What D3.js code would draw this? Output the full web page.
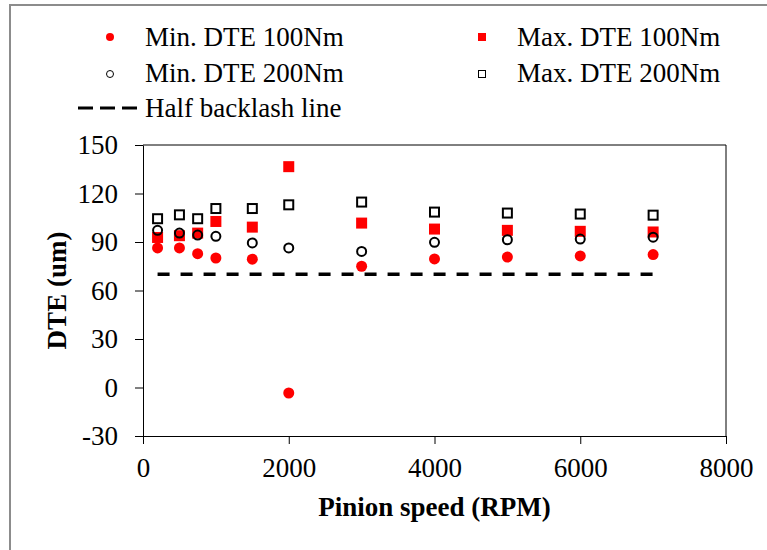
<!DOCTYPE html>
<html>
  <head>
    <script src="https://d3js.org/d3.v7.min.js" charset="utf-8"></script>
    <style type="text/css">
    body { margin: 0; background: #fff; }
    svg text { font-family: "Liberation Serif", "Times New Roman", serif; fill: #000; }
    .axis path, .axis line { stroke: #000; stroke-width: 1; }
    .axis text { font-size: 27px; }
    .title { font-size: 27px; font-weight: bold; }
    .legend text { font-size: 27px; }
    </style>
  </head>
  <body>
  <script type="text/javascript">
  // pinion speed (RPM)
  var speeds = [200, 500, 750, 1000, 1500, 2000, 3000, 4000, 5000, 6000, 7000];
  // DTE values (um)
  var minDte100 = [86.3, 86.3, 82.8, 80.1, 79.4, -3.4, 75.0, 79.5, 80.7, 81.4, 82.2];
  var maxDte100 = [92.8, 93.9, 95.5, 102.7, 99.2, 136.6, 101.7, 98.0, 97.2, 96.6, 96.2];
  var minDte200 = [97.2, 95.5, 94.3, 93.5, 89.4, 86.3, 84.2, 89.8, 91.4, 91.8, 93.0];
  var maxDte200 = [104.4, 106.8, 104.4, 110.7, 110.7, 113.0, 114.7, 108.5, 107.9, 107.3, 106.6];
  var halfBacklash = [[200, 70], [7000, 70]];

  var xTicks = [0, 2000, 4000, 6000, 8000];
  var yTicks = [-30, 0, 30, 60, 90, 120, 150];

  var W = 767, H = 550;
  var svg = d3.select("body").append("svg").attr("width", W).attr("height", H);

  // outer frame (top + left only)
  svg.append("line").attr("x1", 9).attr("x2", W).attr("y1", 5).attr("y2", 5)
    .attr("stroke", "#8c8c8c").attr("stroke-width", 2);
  svg.append("line").attr("x1", 10).attr("x2", 10).attr("y1", 4).attr("y2", H)
    .attr("stroke", "#8c8c8c").attr("stroke-width", 2);

  var x = d3.scaleLinear().domain([0, 8000]).range([143, 726]);
  var y = d3.scaleLinear().domain([-30, 150]).range([436, 145]);

  // plot box top/right
  svg.append("line").attr("x1", x(0)).attr("x2", x(8000)).attr("y1", y(150)).attr("y2", y(150))
    .attr("stroke", "#000");
  svg.append("line").attr("x1", x(8000)).attr("x2", x(8000)).attr("y1", y(150)).attr("y2", y(-30))
    .attr("stroke", "#000");

  svg.append("g").attr("class", "axis")
    .attr("transform", "translate(0," + y(-30) + ")")
    .call(d3.axisBottom(x).tickValues(xTicks).tickFormat(function(d) { return String(d); })
      .tickSize(8).tickSizeOuter(0).tickPadding(14));

  // plain hyphen for negatives, like the original
  svg.append("g").attr("class", "axis")
    .attr("transform", "translate(" + x(0) + ",0)")
    .call(d3.axisLeft(y).tickValues(yTicks).tickFormat(function(d) { return String(d); })
      .tickSize(8).tickSizeOuter(0).tickPadding(17));

  svg.selectAll(".axis path, .axis line").attr("stroke", "#000");

  // axis titles
  svg.append("text").attr("class", "title")
    .attr("x", (x(0) + x(8000)) / 2).attr("y", 516)
    .attr("text-anchor", "middle").text("Pinion speed (RPM)");
  svg.append("text").attr("class", "title")
    .attr("transform", "translate(66," + (y(-30) + y(150)) / 2 + ") rotate(-90)")
    .attr("text-anchor", "middle").text("DTE (um)");

  // half backlash line
  var line = d3.line().x(function(d) { return x(d[0]); }).y(function(d) { return y(d[1]); });
  svg.append("path").datum(halfBacklash).attr("d", line)
    .attr("stroke", "#000").attr("stroke-width", 3.5).attr("stroke-dasharray", "12,11").attr("fill", "none");

  function pts(vals) {
    return vals.map(function(v, i) { return [speeds[i], v]; });
  }

  svg.append("g").selectAll("circle").data(pts(minDte100)).enter().append("circle")
    .attr("cx", function(d) { return x(d[0]); }).attr("cy", function(d) { return y(d[1]); })
    .attr("r", 5.5).attr("fill", "#ff0000");

  svg.append("g").selectAll("rect").data(pts(maxDte100)).enter().append("rect")
    .attr("x", function(d) { return x(d[0]) - 5.5; }).attr("y", function(d) { return y(d[1]) - 5.5; })
    .attr("width", 11).attr("height", 11).attr("fill", "#ff0000");

  svg.append("g").selectAll("circle").data(pts(minDte200)).enter().append("circle")
    .attr("cx", function(d) { return x(d[0]); }).attr("cy", function(d) { return y(d[1]); })
    .attr("r", 4.5).attr("fill", "none").attr("stroke", "#000").attr("stroke-width", 2);

  svg.append("g").selectAll("rect").data(pts(maxDte200)).enter().append("rect")
    .attr("x", function(d) { return x(d[0]) - 4.5; }).attr("y", function(d) { return y(d[1]) - 4.5; })
    .attr("width", 9).attr("height", 9).attr("fill", "none").attr("stroke", "#000").attr("stroke-width", 2);

  // legend
  var lg = svg.append("g").attr("class", "legend");
  lg.append("circle").attr("cx", 110).attr("cy", 37).attr("r", 4).attr("fill", "#ff0000");
  lg.append("text").attr("x", 145).attr("y", 46).text("Min. DTE 100Nm");
  lg.append("rect").attr("x", 478).attr("y", 33).attr("width", 8).attr("height", 8).attr("fill", "#ff0000");
  lg.append("text").attr("x", 517).attr("y", 46).text("Max. DTE 100Nm");
  lg.append("circle").attr("cx", 110).attr("cy", 74).attr("r", 3.5).attr("fill", "none").attr("stroke", "#000");
  lg.append("text").attr("x", 145).attr("y", 82).text("Min. DTE 200Nm");
  lg.append("rect").attr("x", 478.5).attr("y", 70.5).attr("width", 7).attr("height", 7)
    .attr("fill", "none").attr("stroke", "#000");
  lg.append("text").attr("x", 517).attr("y", 82).text("Max. DTE 200Nm");
  lg.append("line").attr("x1", 78).attr("x2", 140).attr("y1", 108).attr("y2", 108)
    .attr("stroke", "#000").attr("stroke-width", 3).attr("stroke-dasharray", "15,7");
  lg.append("text").attr("x", 145).attr("y", 117).text("Half backlash line");
  </script>
  </body>
</html>
